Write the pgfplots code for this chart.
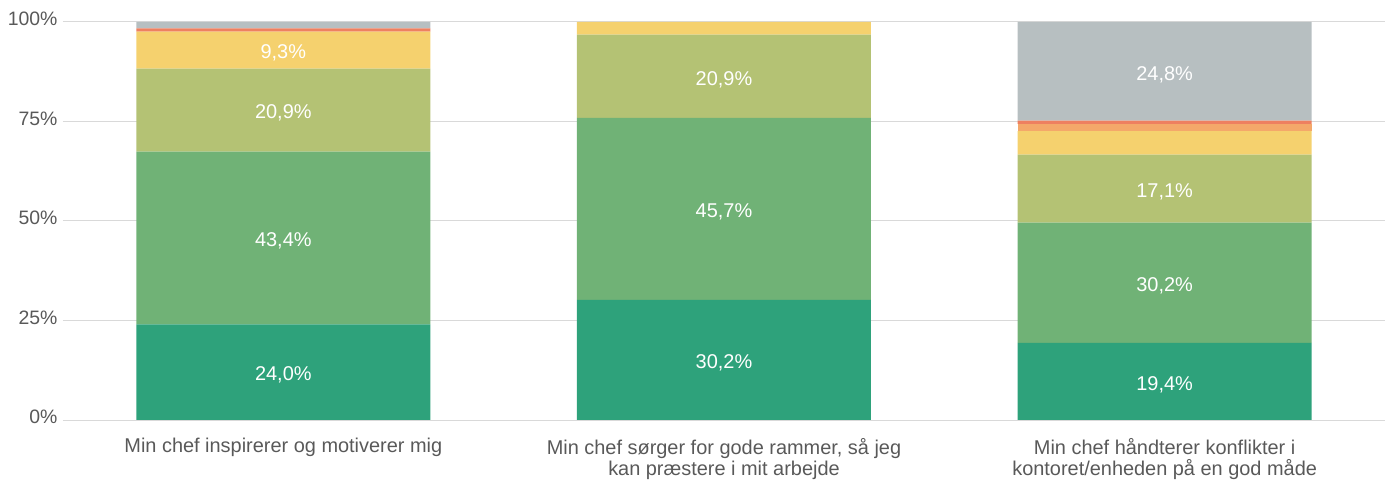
\documentclass[border=0pt]{standalone}
\usepackage{pgfplots}
\pgfplotsset{compat=1.18}
\usepackage{fontspec}
\setmainfont{Liberation Sans}
\definecolor{cA}{HTML}{2EA27B}
\definecolor{cB}{HTML}{70B276}
\definecolor{cC}{HTML}{B4C274}
\definecolor{cD}{HTML}{F5D16E}
\definecolor{cE}{HTML}{F4A86A}
\definecolor{cF}{HTML}{EE8060}
\definecolor{cG}{HTML}{B7BFC1}
\definecolor{gridc}{HTML}{D9D9D9}
\definecolor{txt}{HTML}{595959}
\begin{document}
\begin{tikzpicture}
\pgfplotsset{
  base/.style={
    at={(0,0)}, anchor=south west,
    scale only axis, width=1322bp, height=398bp,
    xmin=-0.5, xmax=2.5, ymin=0, ymax=100,
  }
}
\begin{axis}[base,
  ybar stacked, bar width=294bp,
  axis line style={draw=none},
  ymajorgrids, grid style={gridc, line width=1pt},
  ytick={0,25,50,75,100},
  yticklabel={\pgfmathprintnumber{\tick}\%},
  /pgf/number format/assume math mode=true,
  major tick length=0pt,
  yticklabel style={font=\fontsize{19.5}{22}\selectfont, text=txt, xshift=-2bp, yshift=3bp},
  xtick={0,1,2},
  xticklabels={Min chef inspirerer og motiverer mig,
    {Min chef sørger for gode rammer, så jeg\\kan præstere i mit arbejde},
    {Min chef håndterer konflikter i\\kontoret/enheden på en god måde}},
  xticklabel style={font=\fontsize{20}{21}\selectfont, text=txt, align=center, yshift=-15bp},
  every axis plot/.append style={draw=none},
]
\addplot[fill=cA] coordinates {(0,24.0) (1,30.2) (2,19.4)};
\addplot[fill=cB] coordinates {(0,43.4) (1,45.7) (2,30.2)};
\addplot[fill=cC] coordinates {(0,20.9) (1,20.9) (2,17.1)};
\addplot[fill=cD] coordinates {(0,9.3) (1,3.2) (2,5.9)};
\addplot[fill=cE] coordinates {(0,0) (1,0) (2,1.8)};
\addplot[fill=cF] coordinates {(0,0.8) (1,0) (2,0.8)};
\addplot[fill=cG] coordinates {(0,1.6) (1,0) (2,24.8)};
\end{axis}
\begin{axis}[base, hide axis]
\addplot[only marks, mark=none, point meta=explicit symbolic,
  nodes near coords,
  every node near coord/.style={anchor=center, yshift=-3bp, text=white, font=\fontsize{20}{22}\selectfont}]
  coordinates {
   (0,12.0) [24,0\%]
   (0,45.7) [43,4\%]
   (0,77.85) [20,9\%]
   (0,92.95) [9,3\%]
   (1,15.1) [30,2\%]
   (1,53.05) [45,7\%]
   (1,86.35) [20,9\%]
   (2,9.7) [19,4\%]
   (2,34.5) [30,2\%]
   (2,58.15) [17,1\%]
   (2,87.6) [24,8\%]
  };
\end{axis}
\pgfresetboundingbox
\path[use as bounding box] (-63bp,-63bp) rectangle (1328bp,420bp);
\end{tikzpicture}
\end{document}
